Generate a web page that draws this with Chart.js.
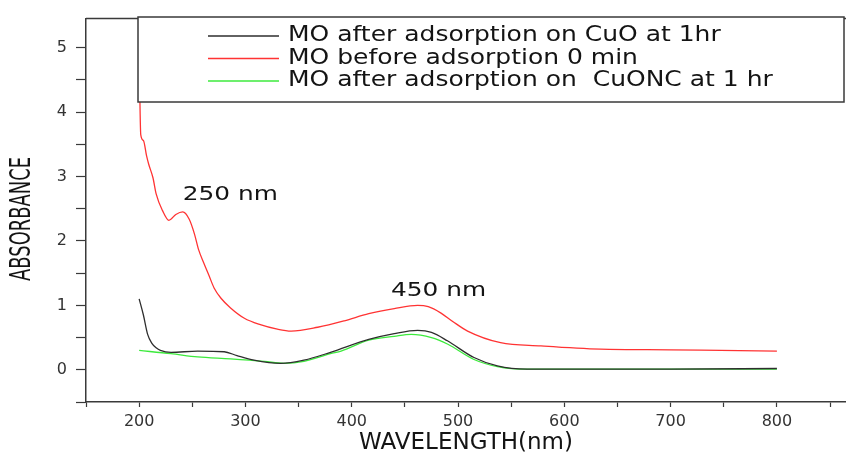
<!DOCTYPE html>
<html>
<head>
<meta charset="utf-8">
<script src="https://cdn.jsdelivr.net/npm/chart.js@4.4.1/dist/chart.umd.min.js"></script>
<style>
  html, body { margin: 0; padding: 0; background: #fff; }
  #wrap { width: 846px; height: 457px; }
</style>
</head>
<body>
<div id="wrap"><canvas id="chart" width="846" height="457"></canvas></div>
<script>
// legend order = draw order (first on top)
const seriesLabels = [
  'MO after adsorption on CuO at 1hr',
  'MO before adsorption 0 min',
  'MO after adsorption on  CuONC at 1 hr'
];
const seriesColors = ['#2e2e2e', '#ff3333', '#3cea3c'];

// MO after adsorption on CuO (black)
const cuoWl  = [200, 204, 208, 212, 216, 220, 230, 255, 280, 292, 308, 333, 355, 380, 416, 440, 462, 475, 490, 515, 537, 565, 600, 700, 800];
const cuoAbs = [1.10, 0.85, 0.55, 0.41, 0.34, 0.30, 0.27, 0.29, 0.28, 0.22, 0.15, 0.10, 0.15, 0.27, 0.47, 0.56, 0.61, 0.58, 0.45, 0.19, 0.06, 0.01, 0.01, 0.01, 0.02];

// MO before adsorption (red)
const moWl  = [200, 201.5, 204, 207, 209, 213, 216, 222, 228, 234.5, 241, 247, 252, 256, 261, 266, 270.5, 277, 286, 299, 314, 330, 343, 368, 393, 416, 440, 462, 472, 484, 495, 509, 540, 578, 634, 700, 747, 800];
const moAbs = [4.90, 3.65, 3.56, 3.32, 3.19, 2.98, 2.73, 2.47, 2.32, 2.41, 2.45, 2.34, 2.11, 1.86, 1.65, 1.45, 1.27, 1.11, 0.96, 0.80, 0.70, 0.63, 0.60, 0.66, 0.76, 0.87, 0.95, 1.00, 0.98, 0.88, 0.75, 0.60, 0.42, 0.37, 0.32, 0.31, 0.30, 0.29];

// MO after adsorption on CuONC (green)
const cuoncWl  = [200, 230, 255, 286, 318, 336, 355, 380, 390, 416, 440, 456, 475, 490, 515, 537, 565, 600, 700, 800];
const cuoncAbs = [0.30, 0.25, 0.20, 0.17, 0.13, 0.10, 0.13, 0.25, 0.29, 0.46, 0.52, 0.55, 0.50, 0.40, 0.16, 0.05, 0.01, 0.01, 0.01, 0.01];

const xTickValues = [150, 200, 250, 300, 350, 400, 450, 500, 550, 600, 650, 700, 750, 800, 850];
const xTickLabels = ['', '200', '', '300', '', '400', '', '500', '', '600', '', '700', '', '800', ''];
const yTickValues = [-0.5, 0, 0.5, 1, 1.5, 2, 2.5, 3, 3.5, 4, 4.5, 5];
const yTickLabels = ['', '0', '', '1', '', '2', '', '3', '', '4', '', '5'];

const peakNotes = [
  { text: '250 nm', wl: 241, abs: 2.71 },
  { text: '450 nm', wl: 437, abs: 1.23 }
];

const toPoints = (xs, ys) => xs.map((x, i) => ({ x, y: ys[i] }));
const seriesData = [toPoints(cuoWl, cuoAbs), toPoints(moWl, moAbs), toPoints(cuoncWl, cuoncAbs)];

const AXIS = '#3a3a3a';
const TEXT = '#141414';

function stretchText(ctx, text, x, y, sx) {
  ctx.save();
  ctx.translate(x, y);
  ctx.scale(sx, 1);
  ctx.fillText(text, 0, 0);
  ctx.restore();
}

const decor = {
  id: 'decor',
  afterDatasetsDraw(chart) {
    const { ctx, chartArea, scales } = chart;
    ctx.save();

    // top frame line
    ctx.strokeStyle = AXIS;
    ctx.lineWidth = 1.5;
    ctx.beginPath();
    ctx.moveTo(chartArea.left, chartArea.top);
    ctx.lineTo(chartArea.right, chartArea.top);
    ctx.stroke();

    // legend box
    ctx.fillStyle = '#fff';
    ctx.fillRect(138, 17, 706, 85);
    ctx.strokeStyle = AXIS;
    ctx.lineWidth = 1.5;
    ctx.strokeRect(138, 17, 706, 85);
    ctx.font = '21px "DejaVu Sans"';
    ctx.textBaseline = 'middle';
    ctx.textAlign = 'left';
    chart.data.datasets.forEach((ds, i) => {
      const y = 36 + i * 22.5;
      ctx.strokeStyle = ds.borderColor;
      ctx.lineWidth = 1.5;
      ctx.beginPath();
      ctx.moveTo(208, y);
      ctx.lineTo(279, y);
      ctx.stroke();
      ctx.fillStyle = TEXT;
      stretchText(ctx, ds.label, 288, y, 1.19);
    });

    // peak labels
    ctx.font = '20px "DejaVu Sans"';
    ctx.fillStyle = TEXT;
    peakNotes.forEach(n => {
      stretchText(ctx, n.text, scales.x.getPixelForValue(n.wl), scales.y.getPixelForValue(n.abs), 1.24);
    });

    // y axis title (condensed)
    ctx.save();
    ctx.translate(23, 219);
    ctx.rotate(-Math.PI / 2);
    ctx.scale(0.64, 1);
    ctx.font = '28px "DejaVu Sans"';
    ctx.textAlign = 'center';
    ctx.fillStyle = TEXT;
    ctx.fillText('ABSORBANCE', 0, 0);
    ctx.restore();

    ctx.restore();
  }
};

new Chart(document.getElementById('chart'), {
  type: 'line',
  data: {
    datasets: seriesData.map((data, i) => ({
      label: seriesLabels[i],
      data,
      borderColor: seriesColors[i],
      borderWidth: 1.3,
      pointRadius: 0,
      fill: false,
      cubicInterpolationMode: 'monotone'
    }))
  },
  options: {
    responsive: false,
    animation: false,
    layout: { padding: { top: 15, right: 0, bottom: 0, left: 0 } },
    plugins: { legend: { display: false }, tooltip: { enabled: false } },
    scales: {
      x: {
        type: 'linear',
        min: 150,
        max: 865,
        afterBuildTicks: s => { s.ticks = xTickValues.map(value => ({ value })); },
        afterFit: s => { s.height = 55; },
        ticks: {
          autoSkip: false,
          maxRotation: 0,
          padding: 5,
          color: '#333',
          font: { family: '"DejaVu Sans"', size: 16 },
          callback: (v, i) => xTickLabels[i]
        },
        grid: { display: true, drawOnChartArea: false, drawTicks: true, tickLength: 5, color: AXIS, tickWidth: 1.2 },
        border: { display: true, color: AXIS, width: 1.5 },
        title: {
          display: true,
          text: 'WAVELENGTH(nm)',
          color: TEXT,
          font: { family: '"DejaVu Sans"', size: 23 },
          padding: { top: 0, bottom: 0 }
        }
      },
      y: {
        min: -0.5,
        max: 5.45,
        afterBuildTicks: s => { s.ticks = yTickValues.map(value => ({ value })); },
        afterFit: s => { s.width = 86; },
        ticks: {
          autoSkip: false,
          padding: 9,
          color: '#333',
          font: { family: '"DejaVu Sans"', size: 16 },
          callback: (v, i) => yTickLabels[i]
        },
        grid: { display: true, drawOnChartArea: false, drawTicks: true, tickLength: 10, color: AXIS, tickWidth: 1.2 },
        border: { display: true, color: AXIS, width: 1.5 }
      }
    }
  },
  plugins: [decor]
});
</script>
</body>
</html>
